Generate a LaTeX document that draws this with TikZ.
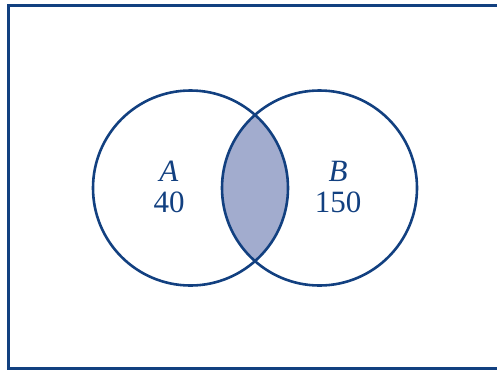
\documentclass[tikz,border=0pt]{standalone}
\usepackage{fontspec}
\setmainfont{Liberation Serif}
\usepackage{tikz}
\definecolor{vennblue}{RGB}{18,64,128}
\definecolor{vennshade}{RGB}{162,172,206}

\begin{document}
\begin{tikzpicture}[
    x=1pt, y=-1pt,
    setring/.style={circle, draw=vennblue, line width=2.6pt,
        minimum size=195pt, inner sep=0pt},
    setlabel/.style={text=vennblue, font=\fontsize{31}{32}\selectfont,
        align=center, inner sep=0pt}
]
\useasboundingbox (0,0) rectangle (497,373);
% universe
\draw[vennblue, line width=3pt] (520,5.5) -- (8.5,5.5) -- (8.5,368.5) -- (520,368.5);
% overlap
\begin{scope}
  \clip (190.5,188) circle (97.5);
  \fill[vennshade] (319.5,188) circle (97.5);
\end{scope}
\node[setring] (setA) at (190.5,188) {};
\node[setring] (setB) at (319.5,188) {};
\node[setlabel] (labA) at (169,187) {\textit{A}\\[-1pt]40};
\node[setlabel] (labB) at (338,187) {\textit{B}\\[-1pt]150};
\end{tikzpicture}
\end{document}
